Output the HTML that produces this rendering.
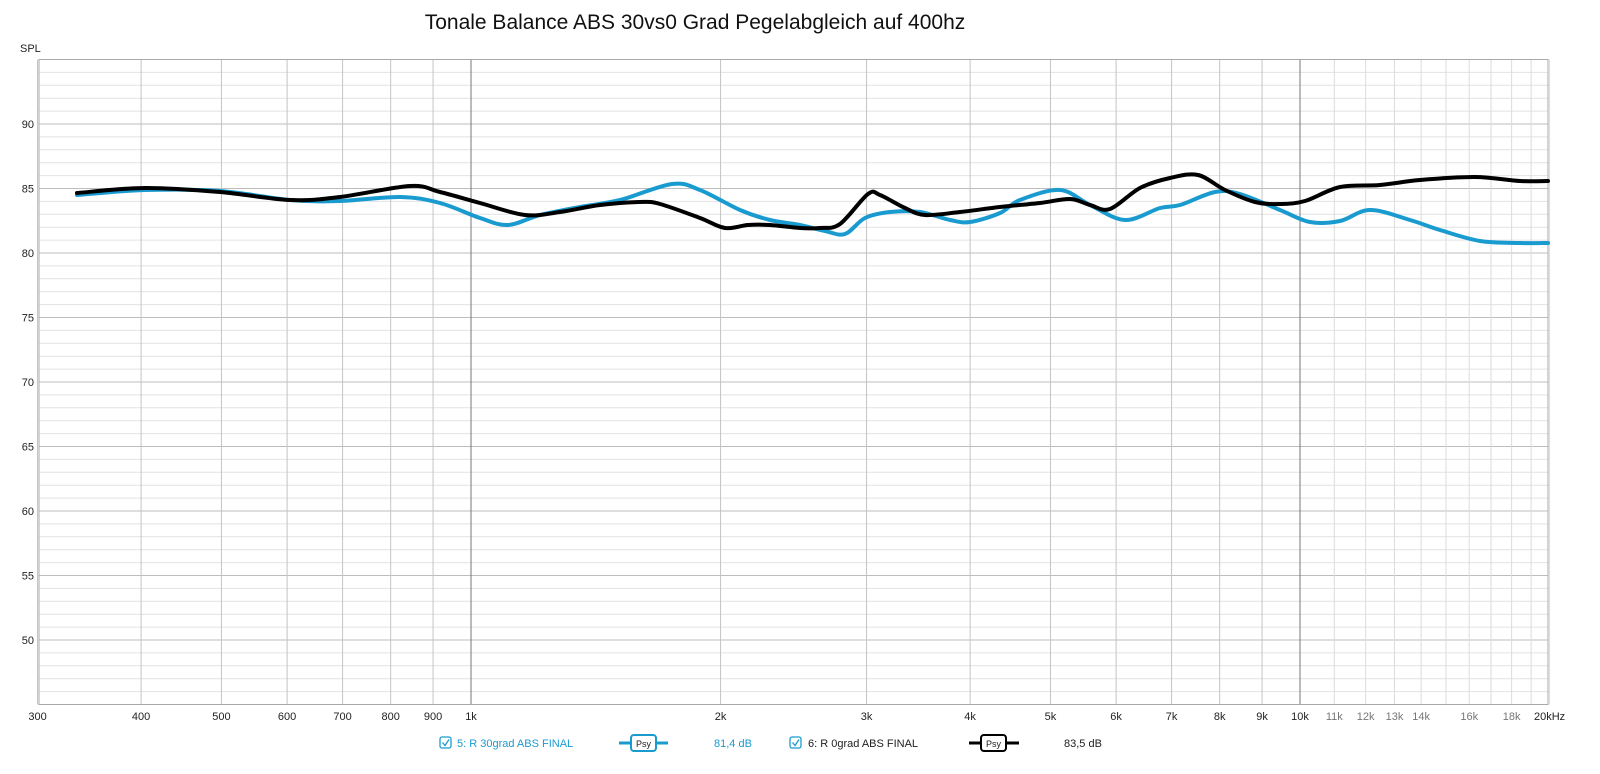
<!DOCTYPE html>
<html><head><meta charset="utf-8"><style>
body{margin:0;background:#fff;width:1600px;height:769px;overflow:hidden;font-family:"Liberation Sans",sans-serif}
</style></head><body>
<svg id="s" width="1600" height="769" xmlns="http://www.w3.org/2000/svg" font-family="Liberation Sans, sans-serif">
<text x="695" y="29" font-size="21" text-anchor="middle" fill="#111">Tonale Balance ABS 30vs0 Grad Pegelabgleich auf 400hz</text>
<text x="20" y="52" font-size="11" fill="#222">SPL</text>
<g id="grid"></g>
<g id="curves"></g>
<g font-size="11">
<rect x="440" y="737" width="11" height="11" rx="2" fill="none" stroke="#1a9bd0" stroke-width="1.3"/>
<path d="M442.5 742.5 l2.5 3 l4 -6" fill="none" stroke="#1a9bd0" stroke-width="1.3"/>
<text x="457" y="747" fill="#1a9bd0">5: R 30grad ABS FINAL</text>
<line x1="619" y1="743" x2="668" y2="743" stroke="#1a9bd0" stroke-width="3"/>
<rect x="631" y="735" width="25" height="16" rx="3" fill="#fff" stroke="#1a9bd0" stroke-width="2"/>
<text x="643.5" y="747" font-size="9" text-anchor="middle" fill="#222">Psy</text>
<text x="714" y="747" fill="#1a9bd0">81,4 dB</text>
<rect x="790" y="737" width="11" height="11" rx="2" fill="none" stroke="#1a9bd0" stroke-width="1.3"/>
<path d="M792.5 742.5 l2.5 3 l4 -6" fill="none" stroke="#1a9bd0" stroke-width="1.3"/>
<text x="808" y="747" fill="#222">6: R 0grad ABS FINAL</text>
<line x1="969" y1="743" x2="1019" y2="743" stroke="#000" stroke-width="3"/>
<rect x="981" y="735" width="25" height="16" rx="3" fill="#fff" stroke="#000" stroke-width="2"/>
<text x="993.5" y="747" font-size="9" text-anchor="middle" fill="#222">Psy</text>
<text x="1064" y="747" fill="#222">83,5 dB</text>
</g>
</svg>
<script>
const NS="http://www.w3.org/2000/svg";
const g=document.getElementById('grid'),c=document.getElementById('curves');
function el(p,t,a){const e=document.createElementNS(NS,t);for(const k in a)e.setAttribute(k,a[k]);p.appendChild(e);return e;}
const X=f=>471+829*Math.log10(f/1000), Y=v=>124+(90-v)*12.9;
const L=39,R=1548,T=Y(95),B=Y(45);
for(let v=45;v<=95;v++){const maj=v%5==0;el(g,'line',{x1:L,x2:R,y1:Y(v),y2:Y(v),stroke:maj?'#bdbdbd':'#e2e2e2','stroke-width':1});
 if(maj&&v>=50&&v<=90){const t=el(g,'text',{x:34,y:Y(v)+4,'font-size':11,'text-anchor':'end',fill:'#222'});t.textContent=v;}}
const fr=[300,400,500,600,700,800,900,1000,2000,3000,4000,5000,6000,7000,8000,9000,10000,11000,12000,13000,14000,15000,16000,17000,18000,19000,20000];
const lab={300:'300',400:'400',500:'500',600:'600',700:'700',800:'800',900:'900',1000:'1k',2000:'2k',3000:'3k',4000:'4k',5000:'5k',6000:'6k',7000:'7k',8000:'8k',9000:'9k',10000:'10k',11000:'11k',12000:'12k',13000:'13k',14000:'14k',16000:'16k',18000:'18k',20000:'20kHz'};
fr.forEach(f=>{const x=X(f);const dark=(f==1000||f==10000);const minor=f>10000;
 el(g,'line',{x1:x,x2:x,y1:T,y2:B,stroke:dark?'#777':(minor?'#dcdcdc':'#c4c4c4'),'stroke-width':1});
 if(lab[f]){const t=el(g,'text',{x:Math.min(x,1552),y:720,'font-size':11,'text-anchor':f==20000?'middle':'middle',fill:(minor&&f<20000)?'#777':'#222'});t.textContent=lab[f];}});
el(g,'rect',{x:L,y:T,width:R-L,height:B-T,fill:'none',stroke:'#aaa','stroke-width':1});
function path(p){let d='M'+p[0][0]+' '+p[0][1];for(let i=0;i<p.length-1;i++){const p0=p[i-1]||p[i],p1=p[i],p2=p[i+1],p3=p[i+2]||p2;
 d+=' C'+(p1[0]+(p2[0]-p0[0])/6)+' '+(p1[1]+(p2[1]-p0[1])/6)+' '+(p2[0]-(p3[0]-p1[0])/6)+' '+(p2[1]-(p3[1]-p1[1])/6)+' '+p2[0]+' '+p2[1];}return d;}
const blue=[[77,195],[145,190],[220,191],[290,200],[340,201],[400,197],[440,203],[480,218],[508,225],[540,215],[580,207],[620,200],[672,184],[700,190],[740,210],[770,220],[800,225],[825,231],[845,234],[865,218],[890,212],[920,212],[950,220],[970,222],[1000,213],[1020,200],[1060,190],[1090,205],[1125,220],[1160,208],[1180,205],[1215,192],[1240,194],[1280,210],[1310,222],[1340,221],[1370,210],[1410,220],[1440,230],[1480,241],[1520,243],[1548,243]];
const black=[[77,193],[145,188],[220,192],[290,200],[340,197],[410,186],[440,192],[480,203],[525,215],[560,212],[600,205],[640,202],[660,204],[700,218],[725,228],[748,225],[770,225],[800,228],[820,228],[840,224],[868,194],[880,195],[905,208],[925,215],[960,212],[1000,207],[1040,203],[1070,199],[1090,205],[1110,209],[1140,188],[1170,178],[1198,175],[1225,190],[1255,202],[1280,204],[1305,201],[1340,187],[1380,185],[1420,180],[1475,177],[1520,181],[1548,181]];
el(c,'path',{d:path(blue),fill:'none',stroke:'#1a9bd0','stroke-width':4,'stroke-linejoin':'round','stroke-linecap':'round'});
el(c,'path',{d:path(black),fill:'none',stroke:'#000','stroke-width':4,'stroke-linejoin':'round','stroke-linecap':'round'});
</script>
</body></html>
